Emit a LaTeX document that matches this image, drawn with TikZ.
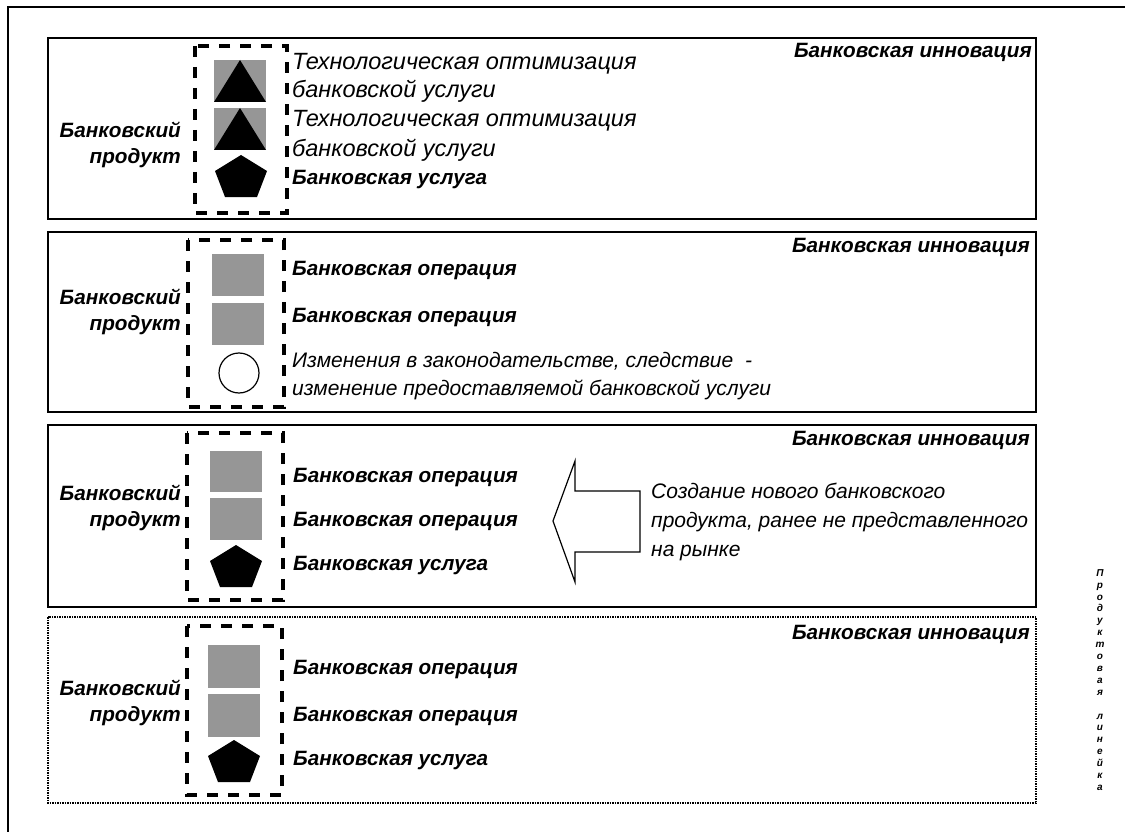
\documentclass[tikz,border=0pt]{standalone}
\usepackage{fontspec}
\setmainfont{Liberation Sans}
\usetikzlibrary{positioning}
\tikzset{
	pent/.pic={\fill[black] (0,-22) -- (26,-6) -- (16,20) -- (-16,20) -- (-26,-6) -- cycle;},
	trisq/.pic={\fill[opgray] (-26,-21) rectangle (26,21);
		\fill[black] (-26,21) -- (0,-21) -- (26,21) -- cycle;}
}
\definecolor{opgray}{HTML}{969696}
\newcommand{\binnov}{Банковская инновация}
\newcommand{\bop}{Банковская операция}
\newcommand{\bserv}{Банковская услуга}

\begin{document}
\begin{tikzpicture}[x=1pt,y=-1pt,
		panel/.style={draw, line width=1.6pt},
		grp/.style={draw, line width=4.5pt, dash pattern=on 11pt off 10pt},
		opsq/.style={fill=opgray},
		lab/.style={inner sep=0pt, font=\fontsize{20.7}{26}\selectfont\bfseries\itshape},
		txt/.style={inner sep=0pt, anchor=west, font=\fontsize{21}{29}\selectfont\itshape},
		bigtxt/.style={txt, font=\fontsize{23.5}{29}\selectfont\itshape}]
	\useasboundingbox (0,0) rectangle (1125,832);
	\draw[line width=1.5pt] (8,832) -- (8,7) -- (1125,7);
	
	% panels
	\draw[panel] (48,38) rectangle (1036,219);
	\draw[panel] (48,232) rectangle (1036,412);
	\draw[panel] (48,425) rectangle (1036,607);
	\draw[panel, line width=2pt, dash pattern=on 1.5pt off 1pt] (48,617) rectangle (1036,803);
	
	\node[lab, anchor=east] (in1) at (1032,52) {\binnov};
	\node[lab, anchor=east] (in2) at (1030,247) {\binnov};
	\node[lab, anchor=east] (in3) at (1030,440) {\binnov};
	\node[lab, anchor=east] (in4) at (1030,634) {\binnov};
	
	\node[lab, anchor=east, align=right] (pr1) at (181,145) {Банковский\\продукт};
	\node[lab, anchor=east, align=right] (pr2) at (181,312) {Банковский\\продукт};
	\node[lab, anchor=east, align=right] (pr3) at (181,508) {Банковский\\продукт};
	\node[lab, anchor=east, align=right] (pr4) at (181,703) {Банковский\\продукт};
	
	% first panel
	\draw[grp] (195,46) rectangle (287,213);
	\pic at (240,81) {trisq};
	\pic at (240,129) {trisq};
	\pic at (241,177) {pent};
	\node[bigtxt] (t11) at (292,64) {Технологическая оптимизация};
	\node[bigtxt] (t12) at (292,91) {банковской услуги};
	\node[bigtxt] (t13) at (292,121) {Технологическая оптимизация};
	\node[bigtxt] (t14) at (292,150) {банковской услуги};
	\node[lab, anchor=west] (t15) at (292,180) {\bserv};
	
	% second panel
	\draw[grp] (188,240) rectangle (284,407);
	\fill[opsq] (212,254) rectangle (264,296);
	\fill[opsq] (212,303) rectangle (264,345);
	\draw[line width=1.2pt, fill=white] (239,373) circle (20);
	\node[lab, anchor=west] (t21) at (292,271) {\bop};
	\node[lab, anchor=west] (t22) at (292,318) {\bop};
	\node[txt] (t23) at (292,361) {Изменения в законодательстве, следствие~ -};
	\node[txt] (t24) at (292,390) {изменение предоставляемой банковской услуги};
	
	% third panel
	\draw[grp] (187,433) rectangle (283,600);
	\fill[opsq] (210,451) rectangle (262,492);
	\fill[opsq] (210,498) rectangle (262,540);
	\pic at (236,567) {pent};
	\node[lab, anchor=west] (t31) at (293,478) {\bop};
	\node[lab, anchor=west] (t32) at (293,522) {\bop};
	\node[lab, anchor=west] (t33) at (293,566) {\bserv};
	\draw[line width=1.2pt, line join=miter] (553,521) -- (575,461) -- (575,491) -- (640,491)
		-- (640,552) -- (575,552) -- (575,582) -- cycle;
	\node[txt, align=left] (newprod) at (651,522) {Создание нового банковского\\продукта, ранее не представленного\\на рынке};
	
	% fourth panel
	\draw[grp] (187,626) rectangle (282,795);
	\fill[opsq] (208,645) rectangle (260,688);
	\fill[opsq] (208,694) rectangle (260,737);
	\pic at (234,762) {pent};
	\node[lab, anchor=west] (t41) at (293,670) {\bop};
	\node[lab, anchor=west] (t42) at (293,717) {\bop};
	\node[lab, anchor=west] (t43) at (293,761) {\bserv};
	
	\node[inner sep=0pt, align=center, font=\fontsize{10}{11.9}\selectfont\bfseries\itshape] (line) at (1100,680)
		{П\\р\\о\\д\\у\\к\\т\\о\\в\\а\\я\\[11.9pt]л\\и\\н\\е\\й\\к\\а};
\end{tikzpicture}
\end{document}
